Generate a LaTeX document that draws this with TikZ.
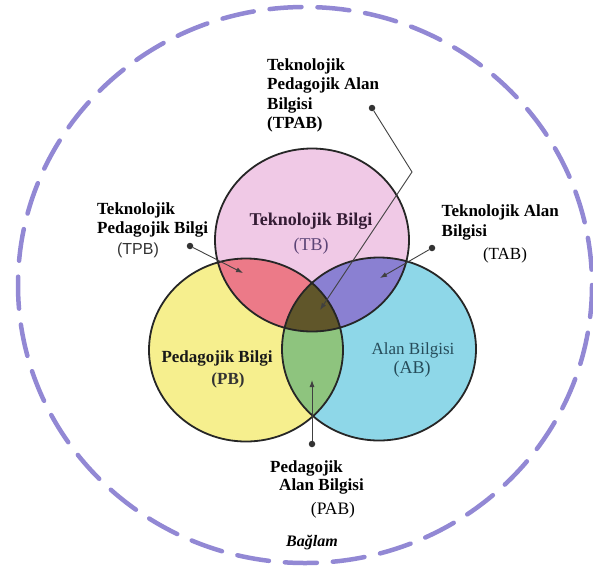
\documentclass[tikz,border=0pt]{standalone}
\usepackage{fontspec}
\setmainfont{Liberation Serif}
\newfontfamily\abbrsans{Liberation Sans}
\usetikzlibrary{arrows.meta,positioning}
\definecolor{ctxviolet}{RGB}{146,136,212}
\definecolor{tbpink}{RGB}{240,201,230}
\definecolor{pbyellow}{RGB}{246,239,142}
\definecolor{abblue}{RGB}{142,215,232}
\definecolor{tpbred}{RGB}{236,122,136}
\definecolor{tabviolet}{RGB}{138,128,210}
\definecolor{pabgreen}{RGB}{142,196,126}
\definecolor{tpabolive}{RGB}{96,86,42}
\definecolor{tbtext}{RGB}{52,28,52}
\definecolor{tbabbr}{RGB}{92,68,118}
\definecolor{abtext}{RGB}{38,76,90}

\begin{document}
\begin{tikzpicture}[
    x=1pt, y=-1pt,
    >=Latex,
    venn/.style={draw=black!85, line width=1.8pt},
    term/.style={font=\fontsize{17}{19.5}\selectfont\bfseries, inner sep=0pt, align=left},
    abbr/.style={font=\fontsize{17}{20}\selectfont, inner sep=0pt},
    dotnode/.style={circle, fill=black!80, inner sep=0pt, minimum size=6.5pt},
    pointer/.style={-{Latex[length=7pt,width=5pt]}, line width=0.9pt, draw=black!75}
]
\useasboundingbox (0,0) rectangle (593,570);

% Context ring around the whole model.
\draw[ctxviolet, line width=4.5pt, dash pattern=on 32pt off 16pt, line cap=round]
    (305,285) ellipse [x radius=287, y radius=278];

% The three knowledge domains (slightly wide, as in the source figure).
\coordinate (tbc) at (312,240);
\coordinate (pbc) at (246,350);
\coordinate (abc) at (379,349);
\foreach \c/\col in {tbc/tbpink, pbc/pbyellow, abc/abblue} {
    \fill[\col] (\c) ellipse [x radius=97, y radius=91.5];
}

% Pairwise overlaps first, then the common core on top.
\begin{scope}
    \clip (pbc) ellipse [x radius=97, y radius=91.5];
    \fill[pabgreen] (abc) ellipse [x radius=97, y radius=91.5];
\end{scope}
\begin{scope}
    \clip (tbc) ellipse [x radius=97, y radius=91.5];
    \fill[tpbred] (pbc) ellipse [x radius=97, y radius=91.5];
    \fill[tabviolet] (abc) ellipse [x radius=97, y radius=91.5];
    \clip (pbc) ellipse [x radius=97, y radius=91.5];
    \fill[tpabolive] (abc) ellipse [x radius=97, y radius=91.5];
\end{scope}
\foreach \c in {tbc, pbc, abc} {
    \draw[venn] (\c) ellipse [x radius=97, y radius=91.5];
}

% Labels inside the domains.
\node[term, font=\fontsize{18}{20}\selectfont\bfseries, text=tbtext] (tbname) at (311,221) {Teknolojik Bilgi};
\node[abbr, font=\fontsize{18}{20}\selectfont, text=tbabbr] (tbshort) at (311,246) {(TB)};
\node[term, text=black!90] (pbname) at (217,358) {Pedagojik Bilgi};
\node[term, text=black!80] (pbshort) at (228,380) {(PB)};
\node[abbr, text=abtext] (abname) at (413,350) {Alan Bilgisi};
\node[abbr, font=\fontsize{18}{20}\selectfont, text=abtext] (abshort) at (412,369) {(AB)};

% Labels of the overlaps, each with its pointer.
\node[term, anchor=west] (tpabname) at (267,95.5)
    {Teknolojik\\Pedagojik Alan\\Bilgisi\\(TPAB)};
\node[dotnode] (tpabdot) at (372,108) {};
\coordinate (tpabbend) at (412,172);
\coordinate (tpabtip) at (320,310);
\draw[pointer] (tpabdot) -- (tpabbend) -- (tpabtip);

\node[term, anchor=west] (tpbname) at (97,220) {Teknolojik\\Pedagojik Bilgi};
\node[abbr, font=\fontsize{16}{20}\selectfont\abbrsans, text=black!80] (tpbshort) at (138,250) {(TPB)};
\node[dotnode] (tpbdot) at (190,246) {};
\coordinate (tpbtip) at (243,273);
\draw[pointer] (tpbdot) -- (tpbtip);

\node[term, anchor=west] (tabname) at (441.5,222.5) {Teknolojik Alan\\Bilgisi};
\node[abbr] (tabshort) at (505,255) {(TAB)};
\node[dotnode] (tabdot) at (432,248) {};
\coordinate (tabtip) at (380,278);
\draw[pointer] (tabdot) -- (tabtip);

\node[term] (pabname1) at (306.5,468) {Pedagojik};
\node[term] (pabname2) at (321.5,486) {Alan Bilgisi};
\node[abbr, font=\fontsize{17.5}{20}\selectfont] (pabshort) at (333,510) {(PAB)};
\node[dotnode] (pabdot) at (312,444) {};
\coordinate (pabtip) at (312,380);
\draw[pointer] (pabdot) -- (pabtip);

% Context label.
\node[font=\fontsize{16}{20}\selectfont\bfseries\itshape, inner sep=0pt] (context) at (312,543) {Bağlam};

\end{tikzpicture}
\end{document}
